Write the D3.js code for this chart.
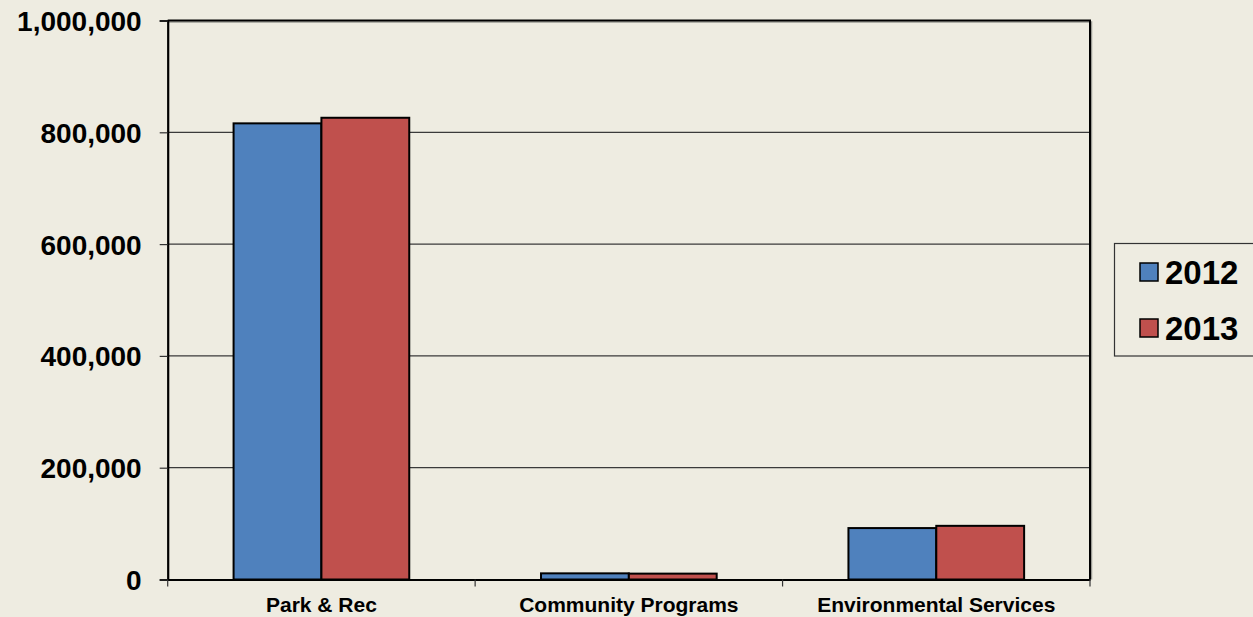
<!DOCTYPE html>
<html>
<head>
<meta charset="utf-8">
<script src="https://cdn.jsdelivr.net/npm/d3@7/dist/d3.min.js"></script>
<style>
  html, body { margin: 0; padding: 0; background: #EEECE1; }
  svg { display: block; }
  text { font-family: "Liberation Sans", Arial, sans-serif; font-weight: bold; fill: #000; }
</style>
</head>
<body>
<svg id="chart" width="1253" height="617"></svg>
<script>
const categories = ["Park & Rec", "Community Programs", "Environmental Services"];
const seriesNames = ["2012", "2013"];
const values2012 = [816000, 11000, 92000];
const values2013 = [826000, 10500, 96000];
const yTicks = [0, 200000, 400000, 600000, 800000, 1000000];
const colors = ["#4F81BD", "#C0504D"];

(function () {
const seriesValues = [values2012, values2013];
const data = categories.map((c, i) => ({
  category: c,
  values: seriesNames.map((s, j) => ({ series: s, value: seriesValues[j][i] }))
}));

const svg = d3.select("#chart");
const W = 1253, H = 617;
svg.append("rect").attr("width", W).attr("height", H).attr("fill", "#EEECE1");

const pLeft = 167.7, pRight = 1090, pTop = 20.5, pBottom = 579.5;

const x0 = d3.scaleBand().domain(categories).range([pLeft, pRight]).paddingInner(0).paddingOuter(0);
const x1 = d3.scaleBand().domain(seriesNames).range([0, x0.bandwidth()]).paddingInner(0).paddingOuter(0.75);
const y = d3.scaleLinear().domain([0, 1000000]).range([pBottom, pTop]);
const color = d3.scaleOrdinal().domain(seriesNames).range(colors);

// gridlines
svg.append("g").selectAll("line").data(yTicks.filter(t => t > 0)).join("line")
  .attr("x1", pLeft).attr("x2", pRight)
  .attr("y1", d => y(d)).attr("y2", d => y(d))
  .attr("stroke", "#3a3a3a").attr("stroke-width", 1.2);

// plot border shadow
svg.append("path")
  .attr("d", `M${pLeft},${pTop + 1.5} H${pRight + 1.5} V${pBottom}`)
  .attr("fill", "none").attr("stroke", "#9a9a94").attr("stroke-width", 1.5);
// plot border (top & right)
svg.append("path")
  .attr("d", `M${pLeft},${pTop} H${pRight} V${pBottom}`)
  .attr("fill", "none").attr("stroke", "#000").attr("stroke-width", 2);

// bars
const groups = svg.append("g").selectAll("g").data(data).join("g")
  .attr("transform", d => `translate(${x0(d.category)},0)`);
groups.selectAll("rect").data(d => d.values).join("rect")
  .attr("x", d => x1(d.series))
  .attr("width", x1.bandwidth())
  .attr("y", d => y(d.value))
  .attr("height", d => y(0) - y(d.value))
  .attr("fill", d => color(d.series))
  .attr("stroke", "#000").attr("stroke-width", 2);

// y axis
const yAxis = d3.axisLeft(y).tickValues(yTicks).tickSize(8).tickPadding(18)
  .tickFormat(d3.format(","));
const gy = svg.append("g").attr("transform", `translate(${pLeft},0)`).call(yAxis);
gy.select(".domain").attr("stroke", "#000").attr("stroke-width", 2.2);
gy.selectAll(".tick line").attr("stroke", "#333").attr("stroke-width", 1.2);
gy.selectAll(".tick text")
  .style("font-size", "28px").style("font-family", "'Liberation Sans', Arial, sans-serif")
  .style("font-weight", "bold").attr("fill", "#000").attr("dy", "0.36em");

// x axis
const xAxis = d3.axisBottom(x0).tickSize(0).tickPadding(0);
const gx = svg.append("g").attr("transform", `translate(0,${pBottom})`).call(xAxis);
gx.select(".domain").attr("stroke", "#000").attr("stroke-width", 2.2);
gx.selectAll(".tick text")
  .style("font-size", "21px").style("font-family", "'Liberation Sans', Arial, sans-serif")
  .style("font-weight", "bold").attr("fill", "#000").attr("y", 32).attr("dy", 0);
// category boundary ticks
const boundaries = categories.map(c => x0(c)).concat([pRight]);
gx.append("g").selectAll("line").data(boundaries).join("line")
  .attr("x1", d => d).attr("x2", d => d).attr("y1", 0).attr("y2", 7)
  .attr("stroke", "#333").attr("stroke-width", 1.2);

// legend
const lg = svg.append("g");
lg.append("rect").attr("x", 1114.5).attr("y", 243.5).attr("width", 160).attr("height", 112.5)
  .attr("fill", "none").attr("stroke", "#333").attr("stroke-width", 1.2);
const items = lg.selectAll("g").data(seriesNames).join("g")
  .attr("transform", (d, i) => `translate(0,${i * 56})`);
items.append("rect").attr("x", 1140).attr("y", 263).attr("width", 18).attr("height", 18)
  .attr("fill", d => color(d)).attr("stroke", "#000").attr("stroke-width", 1.5);
items.append("text").attr("x", 1165).attr("y", 283.5).text(d => d)
  .style("font-size", "33px");
})();
</script>
</body>
</html>
